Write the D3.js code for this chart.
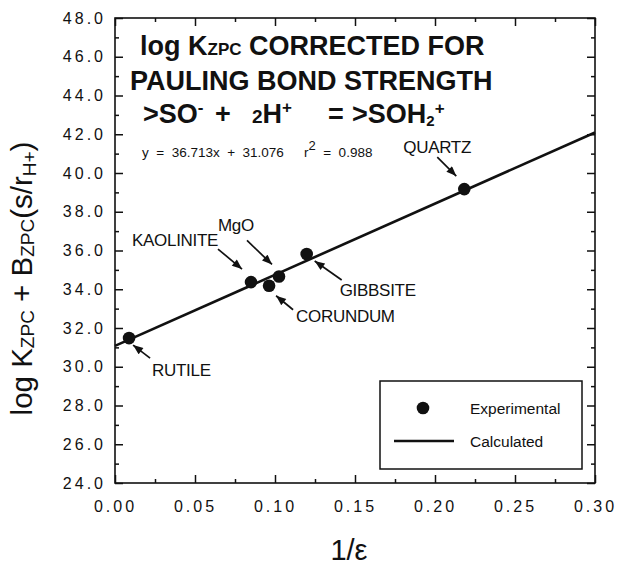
<!DOCTYPE html>
<html>
<head>
<meta charset="utf-8">
<script src="https://cdn.jsdelivr.net/npm/d3@7"></script>
<style>
  body { margin: 0; background: #fff; }
  svg text { font-family: "Liberation Sans", Arial, Helvetica, sans-serif; fill: #111; }
</style>
</head>
<body>
<svg id="chart" width="617" height="565"></svg>
<script>
// Experimental log K(zpc) + B(zpc)(s/r) values against 1/epsilon
const minerals = ["RUTILE", "KAOLINITE", "CORUNDUM", "MgO", "GIBBSITE", "QUARTZ"];
const invEpsilon = [0.0088, 0.085, 0.0963, 0.1025, 0.1198, 0.2183];
const logK = [31.48, 34.37, 34.18, 34.66, 35.82, 39.17];

// Linear regression reported on the chart
const fitSlope = 36.713;
const fitIntercept = 31.076;
const fitR2 = 0.988;

const xTickValues = [0, 0.05, 0.10, 0.15, 0.20, 0.25, 0.30];
const xMinorValues = [0.025, 0.075, 0.125, 0.175, 0.225, 0.275];
const yTickValues = [24, 26, 28, 30, 32, 34, 36, 38, 40, 42, 44, 46, 48];
const yMinorValues = [25, 27, 29, 31, 33, 35, 37, 39, 41, 43, 45, 47];
const legendLabels = ["Experimental", "Calculated"];

// Label placement around each point (pixel offsets from the marker)
const callouts = {
  RUTILE:    { label: [23, 38],   tail: [21, 20],   head: [4, 7] },
  KAOLINITE: { label: [-119, -36], tail: [-33, -33], head: [-9, -13] },
  CORUNDUM:  { label: [27, 36],   tail: [24, 24],   head: [7, 10] },
  MgO:       { label: [-61, -45], tail: [-32, -36], head: [-7, -12] },
  GIBBSITE:  { label: [33, 42],   tail: [35, 26],   head: [8, 7] },
  QUARTZ:    { label: [-61, -36], tail: [-27, -32], head: [-8, -13] }
};

const svg = d3.select("#chart");
const x = d3.scaleLinear().domain([0, 0.30]).range([115, 595]);
const y = d3.scaleLinear().domain([24, 48]).range([483, 18]);
const [x0, x1] = x.range();
const [yb, yt] = y.range();

const defs = svg.append("defs");
defs.append("marker")
  .attr("id", "arrowhead")
  .attr("viewBox", "0 0 10 8")
  .attr("refX", 10).attr("refY", 4)
  .attr("markerWidth", 11).attr("markerHeight", 8)
  .attr("markerUnits", "userSpaceOnUse")
  .attr("orient", "auto")
  .append("path")
  .attr("d", "M0,0 L10,4 L0,8 Z")
  .attr("fill", "#111");

function styleAxis(g) {
  g.select(".domain").remove();
  g.selectAll(".tick line").attr("stroke", "#111").attr("stroke-width", 1.5);
  g.selectAll(".tick text")
    .attr("font-family", "'Liberation Sans', Arial, sans-serif")
    .attr("font-size", 16)
    .style("letter-spacing", "3px")
    .attr("fill", "#111");
}

// Bottom axis with labels
svg.append("g").attr("transform", `translate(0,${yb})`)
  .call(d3.axisBottom(x).tickValues(xTickValues).tickFormat(d3.format(".2f"))
    .tickSizeInner(-8).tickSizeOuter(0).tickPadding(18))
  .call(styleAxis);
svg.append("g").attr("transform", `translate(0,${yb})`)
  .call(d3.axisBottom(x).tickValues(xMinorValues).tickFormat("")
    .tickSizeInner(-4).tickSizeOuter(0))
  .call(styleAxis);

// Top axis ticks
svg.append("g").attr("transform", `translate(0,${yt})`)
  .call(d3.axisTop(x).tickValues(xTickValues).tickFormat("")
    .tickSizeInner(-8).tickSizeOuter(0))
  .call(styleAxis);
svg.append("g").attr("transform", `translate(0,${yt})`)
  .call(d3.axisTop(x).tickValues(xMinorValues).tickFormat("")
    .tickSizeInner(-4).tickSizeOuter(0))
  .call(styleAxis);

// Left axis with labels
svg.append("g").attr("transform", `translate(${x0},0)`)
  .call(d3.axisLeft(y).tickValues(yTickValues).tickFormat(d3.format(".1f"))
    .tickSizeInner(-8).tickSizeOuter(0).tickPadding(9))
  .call(styleAxis);
svg.append("g").attr("transform", `translate(${x0},0)`)
  .call(d3.axisLeft(y).tickValues(yMinorValues).tickFormat("")
    .tickSizeInner(-4).tickSizeOuter(0))
  .call(styleAxis);

// Right axis ticks
svg.append("g").attr("transform", `translate(${x1},0)`)
  .call(d3.axisRight(y).tickValues(yTickValues).tickFormat("")
    .tickSizeInner(-8).tickSizeOuter(0))
  .call(styleAxis);
svg.append("g").attr("transform", `translate(${x1},0)`)
  .call(d3.axisRight(y).tickValues(yMinorValues).tickFormat("")
    .tickSizeInner(-4).tickSizeOuter(0))
  .call(styleAxis);

// Plot frame
svg.append("rect")
  .attr("x", x0).attr("y", yt)
  .attr("width", x1 - x0).attr("height", yb - yt)
  .attr("fill", "none").attr("stroke", "#111").attr("stroke-width", 1.6);

// Regression line across the full x domain
const fitLine = d3.line().x(d => x(d)).y(d => y(fitSlope * d + fitIntercept));
svg.append("path")
  .datum(x.domain())
  .attr("d", fitLine)
  .attr("fill", "none").attr("stroke", "#111").attr("stroke-width", 2.6);

// Experimental points
const points = minerals.map((m, i) => ({ name: m, xv: invEpsilon[i], yv: logK[i] }));
svg.append("g").selectAll("circle")
  .data(points).join("circle")
  .attr("cx", d => x(d.xv)).attr("cy", d => y(d.yv))
  .attr("r", 6.3).attr("fill", "#111");

// Mineral call-outs
const ann = svg.append("g");
points.forEach(d => {
  const c = callouts[d.name];
  const px = x(d.xv), py = y(d.yv);
  ann.append("line")
    .attr("x1", px + c.tail[0]).attr("y1", py + c.tail[1])
    .attr("x2", px + c.head[0]).attr("y2", py + c.head[1])
    .attr("stroke", "#111").attr("stroke-width", 1.7)
    .attr("marker-end", "url(#arrowhead)");
  ann.append("text")
    .attr("x", px + c.label[0]).attr("y", py + c.label[1])
    .attr("font-size", 17).style("letter-spacing", "-0.3px")
    .text(d.name);
});

// Heading
const title = svg.append("g").attr("font-weight", "bold");
const t1 = title.append("text").attr("x", 140).attr("y", 55).attr("font-size", 27);
t1.append("tspan").text("log K");
t1.append("tspan").attr("font-size", 17).text("ZPC");
t1.append("tspan").text(" CORRECTED FOR");

title.append("text").attr("x", 130).attr("y", 90).attr("font-size", 27)
  .text("PAULING BOND STRENGTH");

// Reaction line, laid out in separate pieces
const t3 = title.append("text").attr("y", 123).attr("font-size", 27);
t3.append("tspan").attr("x", 143).text(">SO");
t3.append("tspan").attr("font-size", 17).attr("dy", -10).text("-");
t3.append("tspan").attr("x", 215).attr("dy", 10).text("+");
t3.append("tspan").attr("x", 252).attr("font-size", 19).text("2");
t3.append("tspan").text("H");
t3.append("tspan").attr("font-size", 17).attr("dy", -10).text("+");
t3.append("tspan").attr("x", 328).attr("dy", 10).text("=");
t3.append("tspan").attr("x", 352).text(">SOH");
t3.append("tspan").attr("font-size", 15).attr("dy", 3).text("2");
t3.append("tspan").attr("font-size", 17).attr("dy", -12).text("+");

// Regression equation
const eq = svg.append("text").attr("y", 157).attr("font-size", 13.5)
  .attr("xml:space", "preserve").style("white-space", "pre");
eq.append("tspan").attr("x", 142).text(`y  =  ${fitSlope}x  +  ${fitIntercept}`);
eq.append("tspan").attr("x", 304).text("r");
eq.append("tspan").attr("font-size", 13).attr("dy", -7).text("2");
eq.append("tspan").attr("dy", 7).text(`  =  ${fitR2}`);

// Axis titles
svg.append("text")
  .attr("x", (x0 + x1) / 2 - 6).attr("y", 560)
  .attr("text-anchor", "middle").attr("font-size", 29)
  .text("1/\u03B5");

const yl = svg.append("text")
  .attr("transform", `translate(32,${(yt + yb) / 2 + 28}) rotate(-90)`)
  .attr("text-anchor", "middle").attr("font-size", 29.5);
yl.append("tspan").text("log K");
yl.append("tspan").attr("font-size", 19).attr("dy", 2).text("ZPC");
yl.append("tspan").attr("dy", -2).text(" + B");
yl.append("tspan").attr("font-size", 19).attr("dy", 2).text("ZPC");
yl.append("tspan").attr("dy", -2).text("(s/r");
yl.append("tspan").attr("font-size", 19).attr("dy", 4).text("H+");
yl.append("tspan").attr("dy", -4).text(")");

// Legend
const lg = svg.append("g");
lg.append("rect").attr("x", 380).attr("y", 381).attr("width", 202).attr("height", 88)
  .attr("fill", "#fff").attr("stroke", "#111").attr("stroke-width", 1.5);
lg.append("circle").attr("cx", 423).attr("cy", 408).attr("r", 6.3).attr("fill", "#111");
lg.append("line").attr("x1", 394).attr("x2", 454).attr("y1", 441).attr("y2", 441)
  .attr("stroke", "#111").attr("stroke-width", 2.6);
lg.selectAll("text.lab").data(legendLabels).join("text")
  .attr("class", "lab")
  .attr("x", 470).attr("y", (d, i) => 414 + i * 33)
  .attr("font-size", 15.5)
  .text(d => d);
</script>
</body>
</html>
